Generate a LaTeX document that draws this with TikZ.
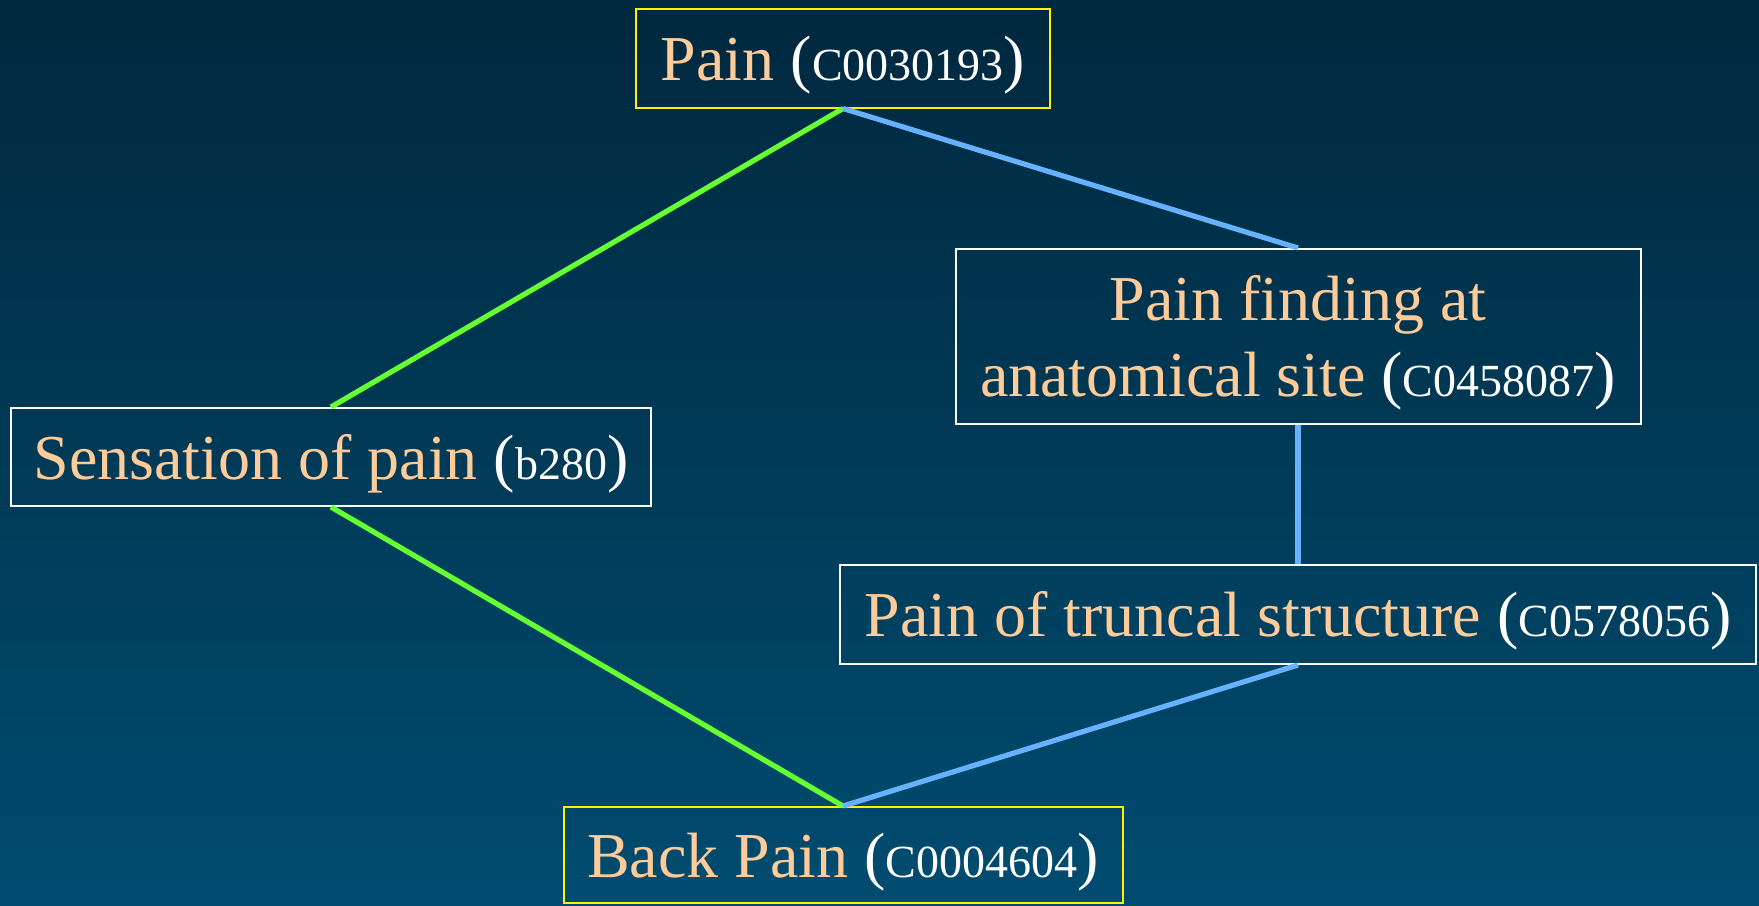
\documentclass[tikz,border=0pt]{standalone}
\usepackage{fontspec}
\setmainfont{Liberation Serif}
\definecolor{peach}{RGB}{255,204,153}
\definecolor{isablue}{RGB}{102,178,255}
\definecolor{isagreen}{RGB}{102,255,51}
\definecolor{bgtop}{RGB}{0,40,62}
\definecolor{bgbottom}{RGB}{0,76,112}
\newcommand{\cui}[1]{\textcolor{white}{({\fontsize{23}{27}\selectfont#1})}}

\begin{document}
\begin{tikzpicture}[x=0.5pt,y=-0.5pt,
    concept/.style={draw=white,line width=1pt,text=peach,inner sep=0pt,
      font=\fontsize{32}{38}\selectfont,align=center,
      text height=22pt,text depth=0pt},
    anchorconcept/.style={concept,draw=yellow},
    greenlink/.style={line width=2.6pt,draw=isagreen},
    bluelink/.style={line width=2.6pt,draw=isablue}]
  \shade[top color=bgtop,bottom color=bgbottom] (0,0) rectangle (1759,905);
  \useasboundingbox (0,0) rectangle (1759,905);

  \node[anchorconcept,minimum width=207pt,minimum height=49.5pt] (pain) at (843,58)
    {Pain \cui{C0030193}};
  \node[concept,minimum width=320pt,minimum height=49pt] (sensation) at (331,457)
    {Sensation of pain \cui{b280}};
  \node[concept,minimum width=342.5pt,minimum height=87.5pt,text height=60pt] (finding) at (1298,336.5)
    {Pain finding at\\anatomical site \cui{C0458087}};
  \node[concept,minimum width=458pt,minimum height=49.5pt] (truncal) at (1298,614.5)
    {Pain of truncal structure \cui{C0578056}};
  \node[anchorconcept,minimum width=279.5pt,minimum height=48pt] (back) at (843,855)
    {Back Pain \cui{C0004604}};

  \draw[greenlink] (pain.south) -- (sensation.north);
  \draw[greenlink] (sensation.south) -- (back.north);
  \draw[bluelink] (pain.south) -- (finding.north);
  \draw[bluelink] (finding.south) -- (truncal.north);
  \draw[bluelink] (truncal.south) -- (back.north);
\end{tikzpicture}
\end{document}
